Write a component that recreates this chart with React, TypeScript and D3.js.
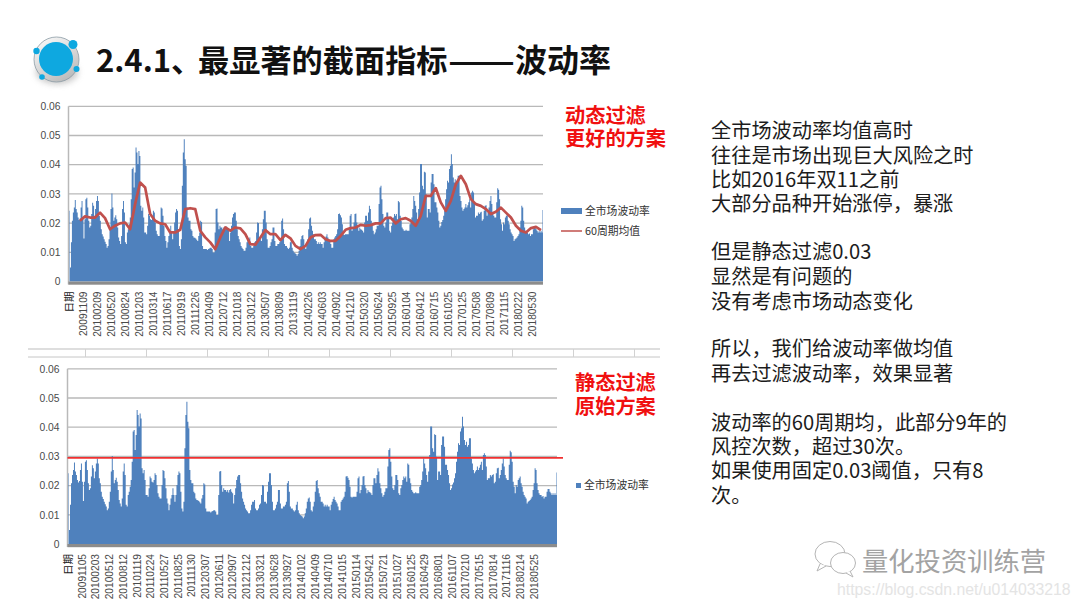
import React from "react";
import * as d3 from "d3";

// Market-wide volatility, in units of 0.0001
const volatility: number[] = [
242,48,134,208,236,253,279,248,236,219,211,216,253,276,213,147,213,282,287,253,208,185,191,231,270,259,225,248,276,293,276,225,208,179,162,154,145,136,128,116,122,145,179,248,301,253,208,219,227,213,185,151,139,128,156,248,276,236,134,128,168,179,196,219,282,385,390,322,373,459,442,402,447,430,259,242,253,219,168,168,162,191,231,225,213,211,219,242,236,202,174,162,156,156,202,253,250,225,191,156,139,116,134,156,168,191,168,145,168,202,236,248,242,179,122,111,145,328,442,487,419,396,253,219,208,208,179,174,
156,151,150,147,143,139,156,168,208,204,122,111,111,111,111,108,111,113,116,116,111,99,99,168,248,250,202,179,191,185,185,179,185,176,185,188,179,174,139,168,191,219,231,236,236,208,179,156,145,134,122,116,111,105,105,116,134,145,145,151,122,116,116,122,134,139,168,202,200,145,145,139,179,213,242,242,202,145,116,116,122,134,145,185,185,139,122,122,128,128,134,145,208,216,179,128,122,122,116,111,116,134,145,116,105,99,97,94,88,94,105,122,145,156,159,145,116,111,128,145,
179,216,219,191,174,162,145,145,139,128,134,128,134,128,128,116,134,145,154,162,151,145,139,128,116,116,145,151,156,162,179,231,233,227,219,196,162,159,162,162,162,162,179,225,231,174,185,202,231,233,202,191,174,185,179,177,174,168,202,225,225,208,236,259,248,208,191,174,162,168,179,191,191,265,322,328,282,231,191,185,202,236,236,219,174,168,191,202,219,231,225,231,213,276,271,225,208,185,179,174,174,177,174,174,174,196,202,219,248,293,276,259,236,213,248,305,402,402,328,316,376,373,299,219,248,248,
236,339,368,368,333,271,271,253,236,208,185,191,204,211,225,242,282,316,345,339,385,396,436,402,356,339,350,333,339,362,362,293,276,253,242,248,253,265,253,261,271,282,253,305,311,305,265,219,225,225,236,231,236,239,208,213,242,259,261,225,236,253,276,293,265,236,225,219,219,271,319,314,282,213,196,174,202,196,219,225,231,208,196,179,168,162,156,139,145,147,151,156,162,185,208,259,253,208,185,174,168,168,162,164,156,162,162,179,188,188,179,174,168,174,168,174,168,245,
];

// 60-period mean, in units of 0.0001, read every few weeks from the picture
const movingMean: number[] = [
208,223,219,219,236,217,179,191,199,202,179,265,339,322,231,208,199,196,168,168,177,248,251,248,174,151,134,111,151,185,174,185,182,162,128,126,151,176,162,162,142,160,148,122,111,122,
151,159,160,145,139,139,156,177,183,185,194,191,193,199,199,217,219,199,213,217,208,191,225,293,293,320,271,242,276,333,362,333,282,265,259,248,231,239,253,236,219,191,174,168,183,187,176,
];

const yTicks = [0, 0.01, 0.02, 0.03, 0.04, 0.05, 0.06];
const staticThreshold = 0.0295;

const topDates = ["日期","20091109","20100209","20100520","20100824","20101203","20110314","20110617","20110919","20111226","20120409","20120712","20121018","20130122","20130507","20130809","20131119","20140226","20140603","20140902","20141210","20150320","20150624","20150925","20160104","20160412","20160715","20161025","20170125","20170508","20170809","20171115","20180222","20180530"];
const bottomDates = ["日期","20091105","20100203","20100512","20100812","20101119","20110224","20110527","20110825","20111130","20120307","20120611","20120907","20121212","20130321","20130628","20130927","20140102","20140409","20140710","20141015","20150114","20150421","20150721","20151027","20160125","20160429","20160801","20161107","20170210","20170515","20170814","20171116","20180214","20180525"];

const bodyParagraphs: string[][] = [
  ["全市场波动率均值高时", "往往是市场出现巨大风险之时", "比如2016年双11之前", "大部分品种开始涨停，暴涨"],
  ["但是静态过滤0.03", "显然是有问题的", "没有考虑市场动态变化"],
  ["所以，我们给波动率做均值", "再去过滤波动率，效果显著"],
  ["波动率的60周期均，此部分9年的", "风控次数，超过30次。", "如果使用固定0.03阈值，只有8", "次。"],
];
const bodyRows = [130, 155, 178.5, 202.5, 251, 276, 301, 348, 373, 422, 446, 470, 495];

const CJK = "'Noto Sans CJK SC','Noto Sans',sans-serif";
const LATIN = "'Liberation Sans','Noto Sans',sans-serif";
const AXIS = "#4a4a4a";
const GRID = "#b9b9b9";
const BLUE = "#4f81bd";
const MA_RED = "#c0504d";
const RED = "#f01010";

type PanelProps = {
  left: number; right: number; zeroY: number; dates: string[]; tickStep: number; children?: React.ReactNode;
};

function Panel({ left, right, zeroY, dates, tickStep, children }: PanelProps) {
  const x = d3.scaleLinear().domain([0, volatility.length - 1]).range([left + 1, right]);
  const y = d3.scaleLinear().domain([0, 0.06]).range([zeroY, zeroY - 175.2]);
  const area = d3.area<number>()
    .x((_, i) => x(i))
    .y0(zeroY)
    .y1((d) => y(d / 10000))
    .curve(d3.curveStep);
  return (
    <g>
      {yTicks.map((t) => (
        <g key={t}>
          {t > 0 && <line x1={left} x2={right} y1={y(t)} y2={y(t)} stroke={GRID} strokeWidth={1.3} />}
          <text x={left - 8} y={y(t) + 3.7} textAnchor="end" fontSize={10.3} fontFamily={LATIN} fill={AXIS}>{t === 0 ? "0" : t.toFixed(2)}</text>
        </g>
      ))}
      <line x1={left} x2={left} y1={y(0.06)} y2={zeroY + 3} stroke={GRID} strokeWidth={1.5} />
      <path d={area(volatility) ?? ""} fill={BLUE} />
      <rect x={left} y={zeroY} width={right - left} height={3.2} fill="#8c8c8c" />
      {dates.map((d, i) => {
        const px = left + 1 + i * tickStep;
        const top = zeroY + 10;
        return (
          <text key={d} transform={`translate(${px + 3.5},${top}) rotate(-90)`} textAnchor="end"
            fontSize={i === 0 ? 10.5 : 10.2} fontFamily={i === 0 ? CJK : LATIN} fill={i === 0 ? "#222" : AXIS}>{d}</text>
        );
      })}
      {children}
    </g>
  );
}

export default function App() {
  const topLeft = 68.5, topRight = 543, topZero = 281.5;
  const botLeft = 67.5, botRight = 557, botZero = 544;
  const yTop = d3.scaleLinear().domain([0, 0.06]).range([topZero, topZero - 175.2]);
  const yBot = d3.scaleLinear().domain([0, 0.06]).range([botZero, botZero - 175.2]);
  const xMean = d3.scaleLinear().domain([0, movingMean.length - 1]).range([80, 541]);
  const meanLine = d3.line<number>().x((_, i) => xMean(i)).y((d) => yTop(d / 10000));
  const dividerTicks = d3.range(85.5, 660, 61);
  let row = 0;

  return (
    <svg width={1080} height={608} viewBox="0 0 1080 608" style={{ position: "absolute", left: 0, top: 0, background: "#fff" }}>
      <defs>
        <filter id="soft" x="-50%" y="-50%" width="200%" height="200%"><feGaussianBlur stdDeviation="3" /></filter>
        <linearGradient id="disc" x1="0" y1="0" x2="0.6" y2="1">
          <stop offset="0" stopColor="#ffffff" />
          <stop offset="1" stopColor="#bdbdbd" />
        </linearGradient>
      </defs>

      {/* Logo */}
      <ellipse cx={57} cy={72} rx={21} ry={12} fill="#999" opacity={0.55} filter="url(#soft)" />
      <circle cx={56.5} cy={59.5} r={22.5} fill="url(#disc)" stroke="#8a9aa5" strokeWidth={0.8} />
      <circle cx={56} cy={59} r={17} fill="#0ea8e0" />
      <circle cx={73} cy={44.5} r={4.5} fill="#0ea8e0" />
      <circle cx={36.5} cy={51} r={3.2} fill="#0ea8e0" />
      <circle cx={76.5} cy={69} r={3} fill="#0ea8e0" />
      <circle cx={42} cy={77} r={2.8} fill="#0ea8e0" />

      {/* Title */}
      <g fontWeight={700} fontFamily={CJK} fill="#111">
        <text x={96} y={72} fontSize={31}>2.4.1、</text>
        <text x={198} y={72} fontSize={31.2}>最显著的截面指标</text>
        <text x={448} y={72} fontSize={31} textLength={67} lengthAdjust="spacingAndGlyphs">——</text>
        <text x={515} y={72} fontSize={32}>波动率</text>
      </g>

      {/* Top chart */}
      <Panel left={topLeft} right={topRight} zeroY={topZero} dates={topDates} tickStep={14.03}>
        <path d={meanLine(movingMean) ?? ""} fill="none" stroke={MA_RED} strokeWidth={2.7} strokeLinejoin="round" />
      </Panel>
      <rect x={561} y={208} width={21} height={6} fill={BLUE} />
      <text x={585} y={215} fontSize={10.8} fontFamily={CJK} fill="#333">全市场波动率</text>
      <line x1={561} x2={582} y1={231} y2={231} stroke={MA_RED} strokeWidth={1.5} />
      <text x={585} y={235} fontSize={10.8} fontFamily={CJK} fill="#333">60周期均值</text>

      {/* Dividers */}
      <line x1={28} x2={660} y1={349} y2={349} stroke="#bdbdbd" strokeWidth={1} />
      <line x1={28} x2={660} y1={357} y2={357} stroke="#c6c6c6" strokeWidth={1} />
      {dividerTicks.map((v) => <line key={v} x1={v} x2={v} y1={349} y2={357} stroke="#d2d2d2" strokeWidth={1} />)}

      {/* Bottom chart */}
      <Panel left={botLeft} right={botRight} zeroY={botZero} dates={bottomDates} tickStep={13.7}>
        <line x1={botLeft} x2={563} y1={yBot(staticThreshold)} y2={yBot(staticThreshold)} stroke="#f03030" strokeWidth={1.6} />
      </Panel>
      <rect x={576} y={483} width={5} height={5} fill={BLUE} />
      <text x={584} y={489} fontSize={10.8} fontFamily={CJK} fill="#333">全市场波动率</text>

      {/* Red annotations */}
      <g fontSize={20.2} fontWeight={700} fontFamily={CJK} fill={RED}>
        <text x={565} y={123}>动态过滤</text>
        <text x={565} y={146}>更好的方案</text>
        <text x={575} y={390}>静态过滤</text>
        <text x={575} y={414}>原始方案</text>
      </g>

      {/* Body text */}
      <g fontSize={20.2} fontFamily={CJK} fill="#1c1c1c">
        {bodyParagraphs.flat().map((s) => {
          const yy = bodyRows[row++];
          return <text key={s} x={711} y={yy + 8}>{s}</text>;
        })}
      </g>

      {/* Watermark */}
      <g fill="#fff" stroke="#b5b5b5" strokeWidth={1}>
        <ellipse cx={830} cy={554} rx={15} ry={12.5} />
        <path d="M820 564 L817 571 L826 566" />
        <ellipse cx={843} cy={563} rx={12.5} ry={10.5} />
        <path d="M850 571 L853 577 L846 573" />
      </g>
      <text x={862} y={571} fontSize={26.3} fontFamily={CJK} fill="#a3a3a3">量化投资训练营</text>
      <text x={837} y={595} fontSize={15.8} fontFamily="'Liberation Sans',sans-serif" fill="#e4e4e4">https://blog.csdn.net/u014033218</text>
    </svg>
  );
}
